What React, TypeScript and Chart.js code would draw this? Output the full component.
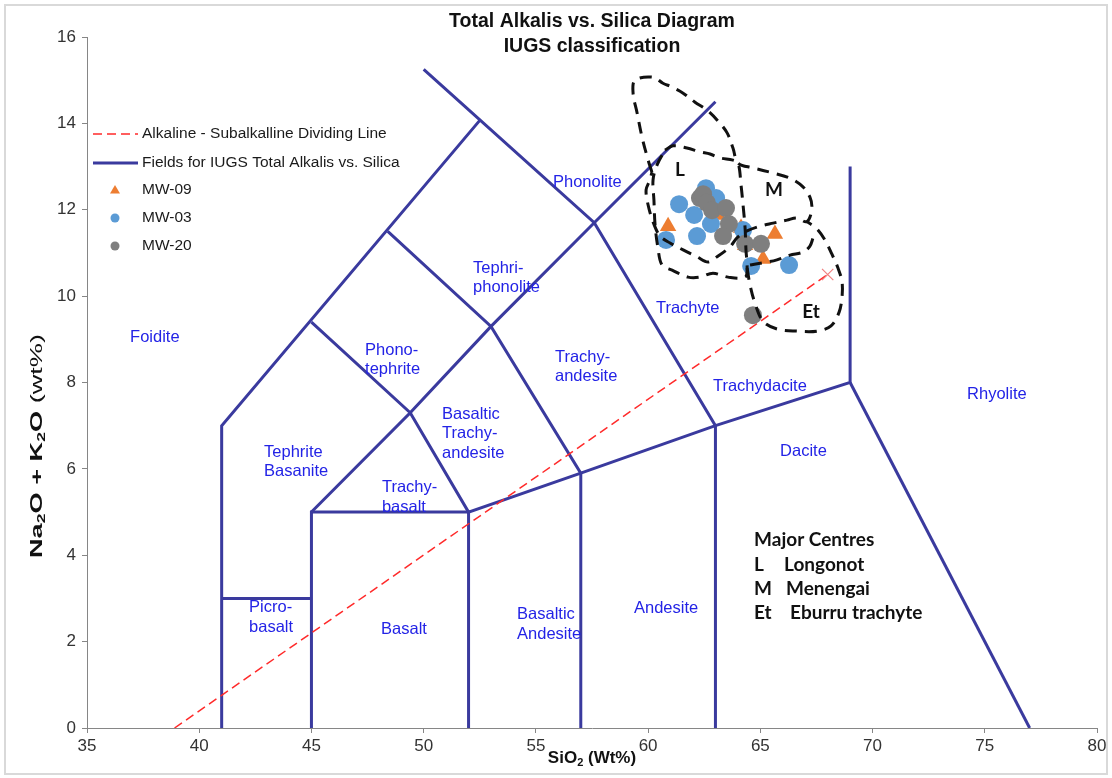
import React, { useEffect, useRef } from 'react';
import { Chart, registerables } from 'chart.js';

Chart.register(...registerables);

// ---------- Data ----------
const X_MIN = 35;
const X_MAX = 80;
const X_STEP = 5;
const Y_MIN = 0;
const Y_MAX = 16;
const Y_STEP = 2;

type Pt = [number, number];

// Samples (SiO2 wt%, Na2O+K2O wt%)
const mw09: Pt[] = [
  [60.89, 11.62], [65.65, 11.44], [65.12, 10.86], [63.11, 11.88], [64.14, 11.58], [64.32, 11.18],
];
const mw03: Pt[] = [
  [62.58, 12.5], [61.38, 12.13], [63.03, 12.27], [62.05, 11.88], [62.8, 11.67],
  [62.18, 11.39], [60.8, 11.3], [64.23, 11.53], [64.59, 10.7], [66.28, 10.72],
];
const mw20: Pt[] = [
  [62.31, 12.27], [62.45, 12.36], [62.62, 12.16], [62.85, 11.99], [63.47, 12.04],
  [63.6, 11.67], [63.34, 11.39], [64.32, 11.21], [65.03, 11.21], [64.67, 9.56],
];

// Alkaline - subalkaline dividing line
const dividingLine: Pt[] = [[38.9, 0], [68.0, 10.5]];

// IUGS TAS field boundaries
const tasFields: Pt[][] = [
  [[41, 0], [41, 7], [52.5, 14.07]],
  [[50, 15.25], [57.6, 11.7], [63, 7], [63, 0]],
  [[41, 3], [45, 3]],
  [[45, 0], [45, 5], [52, 5], [52, 0]],
  [[45, 9.4], [49.4, 7.3], [45, 5]],
  [[49.4, 7.3], [52, 5], [57, 5.9], [63, 7], [69, 8], [69, 13]],
  [[69, 8], [77, 0]],
  [[48.4, 11.5], [53, 9.3], [57, 5.9], [57, 0]],
  [[49.4, 7.3], [53, 9.3], [57.6, 11.7], [63, 14.5]],
];

// Hand-drawn outlines of the major centres (L, M, Et)
const outlineOuter: Pt[] = [
  [60.17, 12.87], [60.0, 13.15], [59.73, 13.68], [59.51, 14.24], [59.33, 14.7], [59.42, 15.0],
  [60.22, 15.07], [60.66, 14.93], [61.07, 14.84], [61.56, 14.7], [62.09, 14.49], [62.62, 14.31],
  [63.07, 14.08], [63.52, 13.78], [63.78, 13.43], [64.01, 13.08], [64.67, 12.97], [65.57, 12.85],
  [66.32, 12.73], [66.9, 12.53], [67.21, 12.29], [67.3, 12.06], [67.21, 11.83], [67.04, 11.72],
  [66.63, 11.81], [66.19, 11.76], [65.57, 11.69], [64.99, 11.62], [64.41, 11.51], [63.96, 11.35],
  [63.65, 11.14], [63.07, 10.91], [62.67, 10.79], [62.18, 10.91], [61.56, 11.07], [60.98, 11.23],
  [60.53, 11.39], [60.22, 11.72], [60.0, 12.11], [59.91, 12.46], [60.08, 12.69], [60.17, 12.87],
];
const outlineL: Pt[] = [
  [60.75, 13.38], [61.11, 13.48], [61.73, 13.43], [62.31, 13.34], [62.76, 13.29], [63.2, 13.2],
  [63.78, 13.15], [64.01, 13.08], [64.14, 12.57], [64.23, 12.11], [64.32, 11.58], [64.36, 11.07],
  [64.41, 10.65], [64.32, 10.44], [63.56, 10.44], [62.89, 10.53], [62.31, 10.44], [61.78, 10.44],
  [61.07, 10.6], [60.62, 10.72], [60.44, 11.11], [60.31, 11.65], [60.26, 12.22], [60.22, 12.69],
  [60.4, 13.04], [60.75, 13.38],
];
const outlineEt: Pt[] = [
  [64.41, 10.65], [64.54, 10.26], [64.76, 9.84], [65.12, 9.42], [65.74, 9.24], [66.63, 9.19],
  [67.53, 9.19], [68.15, 9.31], [68.51, 9.63], [68.64, 9.98], [68.64, 10.33], [68.46, 10.65],
  [68.19, 10.97], [67.88, 11.3], [67.48, 11.58], [67.08, 11.72],
];
const outlineEtTop: Pt[] = [
  [64.54, 10.72], [65.12, 10.77], [65.74, 10.84], [66.32, 10.95], [66.9, 11.02], [67.21, 11.16], [67.35, 11.35],
];

// Field names (anchor: left edge / middle of first line, in data units)
const fieldNames: { lines: string[]; x: number; y: number }[] = [
  { lines: ['Foidite'], x: 36.92, y: 9.05 },
  { lines: ['Phono-', 'tephrite'], x: 47.39, y: 8.75 },
  { lines: ['Tephri-', 'phonolite'], x: 52.2, y: 10.65 },
  { lines: ['Phonolite'], x: 55.76, y: 12.64 },
  { lines: ['Trachyte'], x: 60.35, y: 9.72 },
  { lines: ['Trachy-', 'andesite'], x: 55.85, y: 8.59 },
  { lines: ['Trachydacite'], x: 62.89, y: 7.9 },
  { lines: ['Rhyolite'], x: 74.21, y: 7.73 },
  { lines: ['Dacite'], x: 65.88, y: 6.41 },
  { lines: ['Basaltic', 'Trachy-', 'andesite'], x: 50.82, y: 7.27 },
  { lines: ['Tephrite', 'Basanite'], x: 42.89, y: 6.39 },
  { lines: ['Trachy-', 'basalt'], x: 48.14, y: 5.56 },
  { lines: ['Picro-', 'basalt'], x: 42.22, y: 2.78 },
  { lines: ['Basalt'], x: 48.1, y: 2.29 },
  { lines: ['Basaltic', 'Andesite'], x: 54.16, y: 2.62 },
  { lines: ['Andesite'], x: 59.37, y: 2.76 },
];

const centreTags: { text: string; x: number; y: number }[] = [
  { text: 'L', x: 61.42, y: 12.92 },
  { text: 'M', x: 65.61, y: 12.46 },
  { text: 'Et', x: 67.26, y: 9.63 },
];

const legendKey: [string, string][] = [
  ['L', 'Longonot'],
  ['M', 'Menengai'],
  ['Et', 'Eburru trachyte'],
];

const seriesNames = {
  line: 'Alkaline - Subalkalline Dividing Line',
  fields: 'Fields for IUGS Total Alkalis vs. Silica',
  mw09: 'MW-09',
  mw03: 'MW-03',
  mw20: 'MW-20',
};

// ---------- Styles ----------
const FIELD_COLOR = '#3A3A9E';
const LABEL_BLUE = '#2323E6';
const ORANGE = '#ED7D31';
const BLUE = '#5B9BD5';
const GREY = '#7F7F7F';
const RED = '#FF2A2A';
const AXIS = '#868686';
const SANS = '"Liberation Sans", Arial, sans-serif';
const KEY_FONT = 'Lato, "Open Sans", sans-serif';

const toXY = (arr: Pt[]) => arr.map(([x, y]) => ({ x, y }));

type Part = { t: string; sub?: boolean; bold?: boolean };

function drawRich(ctx: CanvasRenderingContext2D, parts: Part[], size: number, family: string, targetWidth?: number) {
  const fontFor = (p: Part) => `${p.bold === false ? '' : 'bold '}${p.sub ? size * 0.65 : size}px ${family}`;
  let w = 0;
  const widths = parts.map((p) => {
    ctx.font = fontFor(p);
    const m = ctx.measureText(p.t).width;
    w += m;
    return m;
  });
  ctx.save();
  if (targetWidth) ctx.scale(targetWidth / w, 1);
  let x = -w / 2;
  ctx.textBaseline = 'middle';
  ctx.textAlign = 'left';
  parts.forEach((p, i) => {
    ctx.font = fontFor(p);
    ctx.fillText(p.t, x, p.sub ? size * 0.3 : 0);
    x += widths[i];
  });
  ctx.restore();
}

const overlayPlugin = {
  id: 'overlay',
  beforeDraw(chart: any) {
    const ctx = chart.ctx as CanvasRenderingContext2D;
    ctx.save();
    ctx.fillStyle = '#ffffff';
    ctx.fillRect(0, 0, chart.width, chart.height);
    ctx.restore();
  },
  afterDraw(chart: any) {
    const ctx = chart.ctx as CanvasRenderingContext2D;
    const xs = chart.scales.x;
    const ys = chart.scales.y;
    const area = chart.chartArea;
    ctx.save();

    // outer frame
    ctx.strokeStyle = '#D9D9D9';
    ctx.lineWidth = 2;
    ctx.strokeRect(5, 5, chart.width - 10, chart.height - 9);

    // title
    ctx.fillStyle = '#111111';
    ctx.textAlign = 'center';
    ctx.textBaseline = 'middle';
    ctx.font = `bold 19.5px ${SANS}`;
    const cx = (area.left + area.right) / 2;
    ctx.fillText('Total Alkalis vs. Silica Diagram', cx, 22);
    ctx.fillText('IUGS classification', cx, 47);

    // axis titles
    ctx.fillStyle = '#111111';
    ctx.save();
    ctx.translate(cx, 758);
    drawRich(ctx, [{ t: 'SiO' }, { t: '2', sub: true }, { t: ' (Wt%)' }], 17, SANS);
    ctx.restore();

    ctx.save();
    ctx.translate(37, 446);
    ctx.rotate(-Math.PI / 2);
    drawRich(
      ctx,
      [{ t: 'Na' }, { t: '2', sub: true }, { t: 'O + K' }, { t: '2', sub: true }, { t: 'O ' }, { t: '(wt%)', bold: false }],
      17,
      SANS,
      224,
    );
    ctx.restore();

    // field names
    ctx.fillStyle = LABEL_BLUE;
    ctx.textAlign = 'left';
    ctx.textBaseline = 'middle';
    ctx.font = `16.5px ${SANS}`;
    fieldNames.forEach((f) => {
      const x = xs.getPixelForValue(f.x);
      const y = ys.getPixelForValue(f.y);
      f.lines.forEach((line, i) => ctx.fillText(line, x, y + i * 19.5));
    });

    // centre tags
    ctx.fillStyle = '#111111';
    ctx.textAlign = 'center';
    ctx.font = `bold 19px ${KEY_FONT}`;
    centreTags.forEach((c) => ctx.fillText(c.text, xs.getPixelForValue(c.x), ys.getPixelForValue(c.y)));

    // major centres key
    const kx = xs.getPixelForValue(64.72);
    const ky = ys.getPixelForValue(4.35);
    ctx.textAlign = 'left';
    ctx.fillText('Major Centres', kx, ky);
    const colX = [30, 32, 36];
    legendKey.forEach(([a, b], i) => {
      ctx.fillText(a, kx, ky + 24.3 * (i + 1));
      ctx.fillText(b, kx + colX[i], ky + 24.3 * (i + 1));
    });

    // legend
    const lx = area.left + 6;
    const tx = area.left + 55;
    const rows = [97, 126, 153, 181, 209].map((d) => area.top + d);
    ctx.font = `15.5px ${SANS}`;
    ctx.fillStyle = '#1a1a1a';
    ctx.textBaseline = 'middle';
    ctx.strokeStyle = RED;
    ctx.lineWidth = 1.5;
    ctx.setLineDash([9, 5]);
    ctx.beginPath();
    ctx.moveTo(lx, rows[0]);
    ctx.lineTo(lx + 45, rows[0]);
    ctx.stroke();
    ctx.setLineDash([]);
    ctx.fillText(seriesNames.line, tx, rows[0]);
    ctx.strokeStyle = FIELD_COLOR;
    ctx.lineWidth = 3;
    ctx.beginPath();
    ctx.moveTo(lx, rows[1]);
    ctx.lineTo(lx + 45, rows[1]);
    ctx.stroke();
    ctx.fillText(seriesNames.fields, tx, rows[1]);
    const mx = lx + 22;
    ctx.fillStyle = ORANGE;
    ctx.beginPath();
    ctx.moveTo(mx, rows[2] - 5);
    ctx.lineTo(mx + 5, rows[2] + 3.5);
    ctx.lineTo(mx - 5, rows[2] + 3.5);
    ctx.closePath();
    ctx.fill();
    ctx.fillStyle = BLUE;
    ctx.beginPath();
    ctx.arc(mx, rows[3], 4.5, 0, Math.PI * 2);
    ctx.fill();
    ctx.fillStyle = GREY;
    ctx.beginPath();
    ctx.arc(mx, rows[4], 4.5, 0, Math.PI * 2);
    ctx.fill();
    ctx.fillStyle = '#1a1a1a';
    ctx.fillText(seriesNames.mw09, tx, rows[2]);
    ctx.fillText(seriesNames.mw03, tx, rows[3]);
    ctx.fillText(seriesNames.mw20, tx, rows[4]);

    ctx.restore();
  },
};

export default function App() {
  const ref = useRef<HTMLCanvasElement | null>(null);

  useEffect(() => {
    if (!ref.current) return;
    const outlineDs = (pts: Pt[]) => ({
      data: toXY(pts),
      showLine: true,
      borderColor: '#111111',
      borderWidth: 3,
      borderDash: [12, 8],
      pointRadius: 0,
      tension: 0.35,
      order: 0,
    });
    const fieldDs = tasFields.map((seg) => ({
      data: toXY(seg),
      showLine: true,
      borderColor: FIELD_COLOR,
      borderWidth: 3,
      pointRadius: 0,
      tension: 0,
      order: 6,
    }));

    const chart = new Chart(ref.current, {
      type: 'scatter',
      data: {
        datasets: [
          outlineDs(outlineOuter),
          outlineDs(outlineL),
          outlineDs(outlineEt),
          outlineDs(outlineEtTop),
          {
            label: seriesNames.mw20,
            data: toXY(mw20),
            pointStyle: 'circle',
            pointRadius: 9,
            backgroundColor: GREY,
            borderColor: GREY,
            borderWidth: 0,
            order: 1,
          },
          {
            label: seriesNames.mw03,
            data: toXY(mw03),
            pointStyle: 'circle',
            pointRadius: 9,
            backgroundColor: BLUE,
            borderColor: BLUE,
            borderWidth: 0,
            order: 2,
          },
          {
            label: seriesNames.mw09,
            data: toXY(mw09),
            pointStyle: 'triangle',
            pointRadius: 9.5,
            backgroundColor: ORANGE,
            borderColor: ORANGE,
            borderWidth: 0,
            order: 3,
          },
          {
            label: seriesNames.line,
            data: toXY(dividingLine),
            showLine: true,
            borderColor: RED,
            borderWidth: 1.5,
            borderDash: [9, 5],
            pointStyle: 'crossRot',
            pointRadius: [0, 8],
            pointBorderColor: '#F08080',
            pointBorderWidth: 1.2,
            order: 4,
          },
          ...fieldDs,
        ] as any,
      },
      options: {
        animation: false,
        responsive: false,
        devicePixelRatio: 1,
        layout: { padding: { left: 0, top: 37, right: 15, bottom: 0 } },
        plugins: {
          legend: { display: false },
          title: { display: false },
          tooltip: { enabled: false },
        },
        scales: {
          x: {
            type: 'linear',
            min: X_MIN,
            max: X_MAX,
            ticks: {
              stepSize: X_STEP,
              color: '#333333',
              font: { family: SANS, size: 17 },
              padding: 3,
              maxRotation: 0,
            },
            grid: { drawOnChartArea: false, drawTicks: true, tickLength: 5, color: AXIS },
            border: { display: true, color: AXIS, width: 1 },
            afterFit: (s: any) => {
              s.height = 50;
            },
          },
          y: {
            type: 'linear',
            min: Y_MIN,
            max: Y_MAX,
            ticks: {
              stepSize: Y_STEP,
              color: '#333333',
              font: { family: SANS, size: 17 },
              padding: 6,
            },
            grid: { drawOnChartArea: false, drawTicks: true, tickLength: 5, color: AXIS },
            border: { display: true, color: AXIS, width: 1 },
            afterFit: (s: any) => {
              s.width = 87;
            },
          },
        },
      } as any,
      plugins: [overlayPlugin],
    });
    return () => chart.destroy();
  }, []);

  return (
    <div style={{ position: 'absolute', left: 0, top: 0, width: 1112, height: 778 }}>
      <canvas ref={ref} width={1112} height={778} style={{ display: 'block' }} />
    </div>
  );
}
